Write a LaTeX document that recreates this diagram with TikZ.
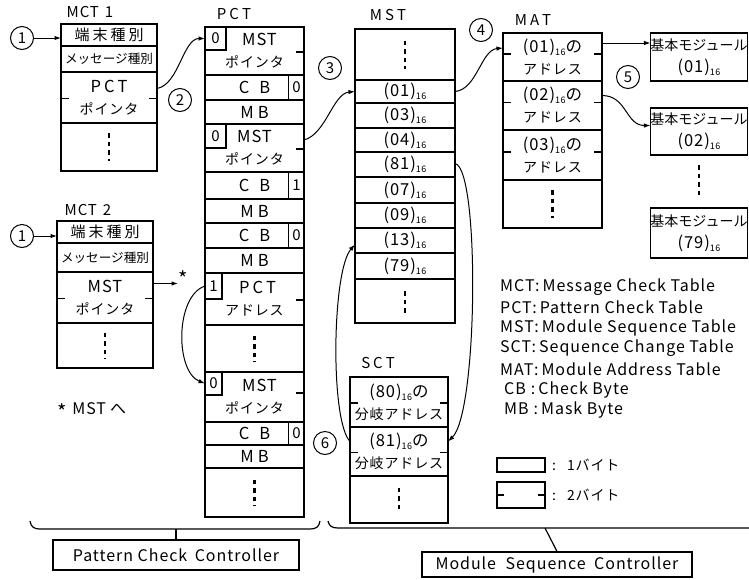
\documentclass[tikz,border=0pt]{standalone}
\usepackage{fontspec}
\setmainfont{Noto Sans CJK JP}[LetterSpace=6]
\newfontfamily\jpn{Noto Sans CJK JP}
\usetikzlibrary{arrows.meta}
\newcommand{\hexs}{\raisebox{-3pt}{\fontsize{9}{9}\selectfont 16}}
\begin{document}
\begin{tikzpicture}[x=1pt,y=-1pt,
  cell/.style={draw, line width=1.2pt, inner sep=0pt, outer sep=0pt, align=center, font=\fontsize{16.5}{22}\selectfont},
  flag/.style={draw, line width=1.1pt, inner sep=0pt, outer sep=0pt, font=\fontsize{15}{15}\selectfont},
  sepline/.style={line width=2.4pt},
  tickline/.style={line width=1.1pt},
  vdots/.style={line width=2.6pt, dash pattern=on 4.5pt off 4pt},
  conn/.style={line width=1pt, -{Latex[length=6.5pt,width=4.5pt]}},
  num/.style={circle, draw, line width=1pt, inner sep=0pt, minimum size=23pt, font=\fontsize{15}{15}\selectfont},
  ttl/.style={inner sep=0pt, font=\fontsize{15}{15}\selectfont},
  leg/.style={anchor=west, inner sep=0pt, font=\fontsize{16}{16}\selectfont},
]
\useasboundingbox (0,0) rectangle (749,579);

% ---------------- MCT 1 ----------------
\node[ttl] (tmct1) at (90,12) {MCT\hspace{6pt}1};
\node[cell, minimum width=96pt, minimum height=22pt, font=\fontsize{15}{15}\selectfont] (ma1) at (109,35) {端\hspace{3pt}末\hspace{3pt}種\hspace{3pt}別};
\node[cell, minimum width=96pt, minimum height=26pt, font=\jpn\fontsize{12.6}{14}\selectfont] (ma2) at (109,59) {メッセージ種別};
\node[cell, minimum width=96pt, minimum height=51pt] (ma3) at (109,97.5) {P\hspace{3pt}C\hspace{3pt}T\\{\fontsize{14}{14}\selectfont ポインタ}};
\node[cell, minimum width=96pt, minimum height=48pt] (ma4) at (109,147) {};
\draw[sepline] (ma4.north west) -- (ma4.north east);
\draw[tickline] ([yshift=-1pt]ma3.west) -- +(8,0) ([yshift=-1pt]ma3.east) -- +(-8,0);
\draw[vdots] ([yshift=14pt]ma4.center) -- ([yshift=-14pt]ma4.center);

% ---------------- MCT 2 ----------------
\node[ttl] (tmct2) at (88,210) {MCT\hspace{6pt}2};
\node[cell, minimum width=96pt, minimum height=22pt, font=\fontsize{15}{15}\selectfont] (mb1) at (105,232) {端\hspace{3pt}末\hspace{3pt}種\hspace{3pt}別};
\node[cell, minimum width=96pt, minimum height=29pt, font=\jpn\fontsize{12.6}{14}\selectfont] (mb2) at (105,257.5) {メッセージ種別};
\node[cell, minimum width=96pt, minimum height=51pt] (mb3) at (105,297.5) {MST\\{\fontsize{14}{14}\selectfont ポインタ}};
\node[cell, minimum width=96pt, minimum height=45pt] (mb4) at (105,345.5) {};
\draw[sepline] (mb4.north west) -- (mb4.north east);
\draw[tickline] ([yshift=-1pt]mb3.west) -- +(8,0) ([yshift=-1pt]mb3.east) -- +(-8,0);
\draw[vdots] ([yshift=13pt]mb4.center) -- ([yshift=-13pt]mb4.center);

\node[num] (n1a) at (22,38) {1};
\node[num] (n1b) at (22,236) {1};
\draw[conn] (n1a) -- (n1a -| ma1.west);
\draw[conn] (n1b) -- (n1b -| mb1.west);

\coordinate (star) at (178,283.5);
\draw[conn] ([yshift=14pt]mb3.east) -- (star);
\node[inner sep=0pt, font=\fontsize{20}{20}\selectfont] (starlbl) at (183,279) {*};
\node[inner sep=0pt, font=\fontsize{16}{16}\selectfont] (mstnote) at (92,411) {\raisebox{-5pt}{\fontsize{20}{20}\selectfont *}\hspace{5pt}MST\hspace{4pt}へ};

% ---------------- PCT ----------------
\node[ttl] (tpct) at (234,14) {P\hspace{3pt}C\hspace{3pt}T};
\node[cell, minimum width=99pt, minimum height=48pt] (p1) at (254.5,51) {\hspace{10pt}MST\\{\fontsize{14}{14}\selectfont ポインタ}};
\node[cell, minimum width=99pt, minimum height=25pt] (p2) at (254.5,87.5) {C\hspace{10pt}B};
\node[cell, minimum width=99pt, minimum height=24pt] (p3) at (254.5,112) {M\hspace{4pt}B};
\node[cell, minimum width=99pt, minimum height=48pt] (p4) at (254.5,148) {MST\\{\fontsize{14}{14}\selectfont ポインタ}};
\node[cell, minimum width=99pt, minimum height=27pt] (p5) at (254.5,185.5) {C\hspace{10pt}B};
\node[cell, minimum width=99pt, minimum height=24pt] (p6) at (254.5,211) {M\hspace{4pt}B};
\node[cell, minimum width=99pt, minimum height=25pt] (p7) at (254.5,235.5) {C\hspace{10pt}B};
\node[cell, minimum width=99pt, minimum height=25pt] (p8) at (254.5,260.5) {M\hspace{4pt}B};
\node[cell, minimum width=99pt, minimum height=52pt] (p9) at (254.5,299) {\hspace{6pt}P\hspace{3pt}C\hspace{3pt}T\\{\fontsize{14}{14}\selectfont アドレス}};
\node[cell, minimum width=99pt, minimum height=47pt] (p10) at (254.5,348.5) {};
\node[cell, minimum width=99pt, minimum height=50pt] (p11) at (254.5,397) {\hspace{10pt}MST\\{\fontsize{14}{14}\selectfont ポインタ}};
\node[cell, minimum width=99pt, minimum height=23pt] (p12) at (254.5,433.5) {C\hspace{10pt}B};
\node[cell, minimum width=99pt, minimum height=23pt] (p13) at (254.5,456.5) {M\hspace{4pt}B};
\node[cell, minimum width=99pt, minimum height=49pt] (p14) at (254.5,492.5) {};
% flags
\node[flag, minimum width=21pt, minimum height=23pt] (f1) at (215.5,38.5) {0};
\node[flag, minimum width=16pt, minimum height=25pt] (f2) at (296.5,87.5) {0};
\node[flag, minimum width=21pt, minimum height=24pt] (f4) at (215.5,136) {0};
\node[flag, minimum width=16pt, minimum height=27pt] (f5) at (296.5,185.5) {1};
\node[flag, minimum width=16pt, minimum height=25pt] (f7) at (296.5,235.5) {0};
\node[flag, minimum width=17pt, minimum height=26pt] (f9) at (213.5,286) {1};
\node[flag, minimum width=17pt, minimum height=23pt] (f11) at (213.5,383.5) {0};
\node[flag, minimum width=16pt, minimum height=23pt] (f12) at (296.5,433.5) {0};
% separators and ticks
\draw[sepline] (p4.north west) -- (p4.north east);
\draw[sepline] (p9.north west) -- (p9.north east);
\draw[sepline] (p10.north west) -- (p10.north east);
\draw[sepline] (p11.north west) -- (p11.north east);
\draw[tickline] ([yshift=-1pt]p1.east) -- +(-8,0);
\draw[tickline] ([yshift=-1pt]p4.east) -- +(-8,0);
\draw[tickline] ([yshift=-1pt]p9.east) -- +(-8,0);
\draw[tickline] ([yshift=4pt]p11.east) -- +(-8,0);
\draw[vdots] ([yshift=13pt]p10.center) -- ([yshift=-13pt]p10.center);
\draw[vdots] ([yshift=13pt]p14.center) -- ([yshift=-13pt]p14.center);

% ---------------- MST ----------------
\node[ttl] (tmst) at (388,15) {M\hspace{3pt}S\hspace{3pt}T};
\node[cell, minimum width=100pt, minimum height=51pt] (m0) at (405,54.5) {};
\node[cell, minimum width=100pt, minimum height=23pt] (m1) at (405,91.5) {(01)\hexs};
\node[cell, minimum width=100pt, minimum height=25pt] (m2) at (405,115.5) {(03)\hexs};
\node[cell, minimum width=100pt, minimum height=24pt] (m3) at (405,140) {(04)\hexs};
\node[cell, minimum width=100pt, minimum height=25pt] (m4) at (405,164.5) {(81)\hexs};
\node[cell, minimum width=100pt, minimum height=26pt] (m5) at (405,190) {(07)\hexs};
\node[cell, minimum width=100pt, minimum height=25pt] (m6) at (405,215.5) {(09)\hexs};
\node[cell, minimum width=100pt, minimum height=25pt] (m7) at (405,240.5) {(13)\hexs};
\node[cell, minimum width=100pt, minimum height=26pt] (m8) at (405,266) {(79)\hexs};
\node[cell, minimum width=100pt, minimum height=44pt] (m9) at (405,301) {};
\draw[sepline] (m1.north west) -- (m1.north east);
\draw[sepline] (m9.north west) -- (m9.north east);
\draw[vdots] ([yshift=14pt]m0.center) -- ([yshift=-14pt]m0.center);
\draw[vdots] ([yshift=10pt]m9.center) -- ([yshift=-12pt]m9.center);

% ---------------- MAT ----------------
\node[ttl] (tmat) at (533,20) {M\hspace{3pt}A\hspace{3pt}T};
\node[cell, minimum width=99pt, minimum height=48pt] (a1) at (552.5,57) {(01)\hexs の\\{\fontsize{14}{14}\selectfont アドレス}};
\node[cell, minimum width=99pt, minimum height=49pt] (a2) at (552.5,105.5) {(02)\hexs の\\{\fontsize{14}{14}\selectfont アドレス}};
\node[cell, minimum width=99pt, minimum height=50pt] (a3) at (552.5,155) {(03)\hexs の\\{\fontsize{14}{14}\selectfont アドレス}};
\node[cell, minimum width=99pt, minimum height=48pt] (a4) at (552.5,204) {};
\foreach \r in {a1,a2,a3}{
  \draw[tickline] ([yshift=3pt]\r.west) -- +(8,0) ([yshift=3pt]\r.east) -- +(-8,0);
}
\draw[vdots] ([yshift=14pt]a4.center) -- ([yshift=-14pt]a4.center);

% ---------------- modules ----------------
\node[cell, minimum width=94pt, minimum height=48pt] (b1) at (699,57) {{\jpn\fontsize{14}{14}\selectfont 基本モジュール}\\(01)\hexs};
\node[cell, minimum width=94pt, minimum height=47pt] (b2) at (699,131.5) {{\jpn\fontsize{14}{14}\selectfont 基本モジュール}\\(02)\hexs};
\node[cell, minimum width=94pt, minimum height=50pt] (b3) at (699,233) {{\jpn\fontsize{14}{14}\selectfont 基本モジュール}\\(79)\hexs};
\draw[vdots] ([yshift=-10pt]b2.south) -- ([yshift=10pt]b3.north);

% ---------------- SCT ----------------
\node[ttl] (tsct) at (378,363) {S\hspace{3pt}C\hspace{3pt}T};
\node[cell, minimum width=98pt, minimum height=50pt] (s1) at (399,402) {(80)\hexs の\\{\fontsize{14}{14}\selectfont 分岐アドレス}};
\node[cell, minimum width=98pt, minimum height=49pt] (s2) at (399,451.5) {(81)\hexs の\\{\fontsize{14}{14}\selectfont 分岐アドレス}};
\node[cell, minimum width=98pt, minimum height=47pt] (s3) at (399,499.5) {};
\foreach \r in {s1,s2}{
  \draw[tickline] ([yshift=-1pt]\r.west) -- +(8,0) ([yshift=-1pt]\r.east) -- +(-8,0);
}
\draw[vdots] ([yshift=12pt]s3.center) -- ([yshift=-12pt]s3.center);

% ---------------- circled numbers ----------------
\node[num] (n2) at (180,100) {2};
\node[num] (n3) at (330,68) {3};
\node[num] (n4) at (481,30) {4};
\node[num] (n5) at (628,77) {5};
\node[num] (n6) at (325,443) {6};

% ---------------- connectors ----------------
\draw[conn] ([yshift=9pt]ma3.east) .. controls +(22,-4) and +(-22,0) .. (f1.west);
\draw[conn] ([yshift=8pt]p4.east) .. controls +(22,-6) and +(-22,2) .. (m1.west);
\draw[conn] (m1.east) .. controls +(22,-2) and +(-22,2) .. ([yshift=9pt]a1.west);
\draw[conn] ([yshift=14pt]a1.east) -- ([yshift=14pt]b1.west);
\draw[conn] ([yshift=10pt]a2.east) .. controls +(25,0) and +(-25,0) .. ([yshift=6pt]b2.west);
\draw[conn] (f9.west) .. controls +(-30,10) and +(-30,-12) .. (f11.west);
\draw[conn] ([yshift=1pt]m4.east) .. controls +(25,5) and +(30,-29) .. ([yshift=10pt]s2.east);
\draw[conn] ([yshift=10pt]s2.west) .. controls +(-20,-21) and +(-23,26) .. ([yshift=-4pt]m7.west);

% ---------------- legend ----------------
\node[leg] (l1) at (500,287) {MCT:\hspace{3pt}Message Check Table};
\node[leg] (l2) at (500,307.5) {PCT:\hspace{3pt}Pattern Check Table};
\node[leg] (l3) at (500,328) {MST:\hspace{3pt}Module Sequence Table};
\node[leg] (l4) at (500,348.5) {SCT:\hspace{3pt}Sequence Change Table};
\node[leg] (l5) at (500,369) {MAT:\hspace{3pt}Module Address Table};
\node[leg] (l6) at (504,389.5) {CB\hspace{5pt}:\hspace{3pt}Check Byte};
\node[leg] (l7) at (504,410) {MB\hspace{5pt}:\hspace{3pt}Mask Byte};
\node[draw, line width=1.2pt, inner sep=0pt, minimum width=48pt, minimum height=14pt] (lg1) at (521,465) {};
\node[draw, line width=1.2pt, inner sep=0pt, minimum width=48pt, minimum height=26pt] (lg2) at (521,495) {};
\draw[tickline] (lg2.west) -- +(8,0) (lg2.east) -- +(-8,0);
\node[leg, font=\fontsize{14}{14}\selectfont] (lt1) at (552,465) {:\hspace{11pt}1バイト};
\node[leg, font=\fontsize{14}{14}\selectfont] (lt2) at (552,495) {:\hspace{11pt}2バイト};

% ---------------- braces & controllers ----------------
\draw[line width=1.2pt] (30,521) .. controls (31,527) and (34,529) .. (40,529) -- (310,529) .. controls (316,529) and (319,527) .. (320,521);
\draw[line width=1.2pt] (328,521) .. controls (329,526) and (332,528) .. (338,528) -- (749,528);
\coordinate (lb) at (176,529);
\coordinate (rb) at (545,528);
\node[draw, line width=1.2pt, minimum width=246pt, minimum height=30pt, inner sep=0pt, font=\fontsize{16}{16}\selectfont] (pcc) at (176,555) {Pattern Check\hspace{3pt} Controller};
\node[draw, line width=1.2pt, minimum width=270pt, minimum height=25pt, inner sep=0pt, font=\fontsize{16}{16}\selectfont] (msc) at (557,564.5) {Module\hspace{5pt} Sequence\hspace{4pt} Controller};
\draw[line width=1.2pt] (lb) -- (pcc.north);
\draw[line width=1.2pt] (rb) -- (msc.north);
\end{tikzpicture}
\end{document}
